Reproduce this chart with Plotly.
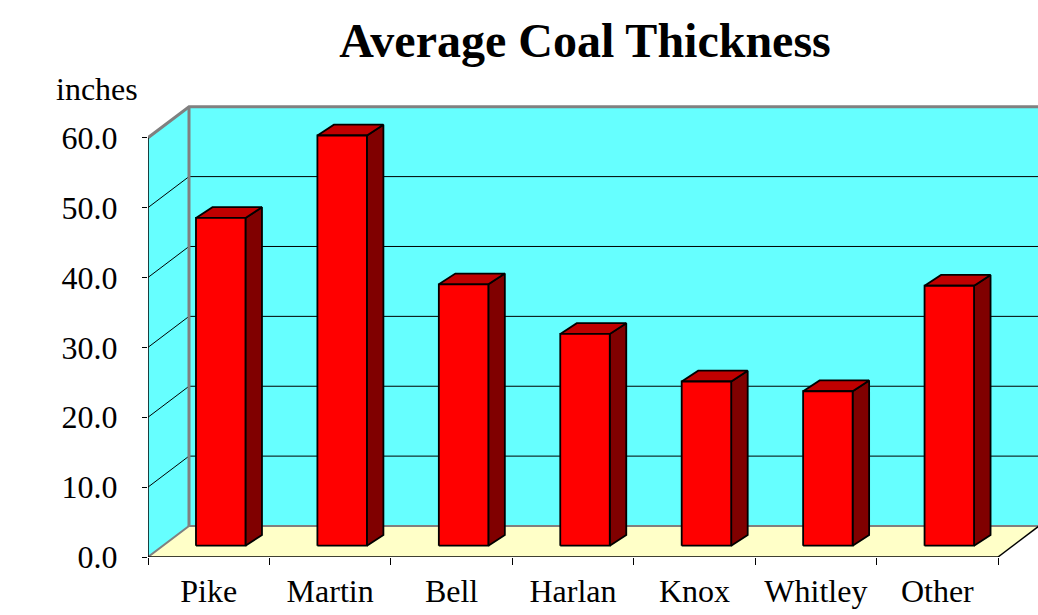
import plotly.graph_objects as go

# ---- data ----
categories = ["Pike", "Martin", "Bell", "Harlan", "Knox", "Whitley", "Other"]
thickness = [46.9, 58.7, 37.4, 30.3, 23.5, 22.1, 37.2]
y_ticks = [0, 10, 20, 30, 40, 50, 60]
y_label = "inches"
title_text = "Average Coal Thickness"

# ---- style / geometry (axis units) ----
n = len(categories)
ymax_axis = y_ticks[-1]
px_per_y = 6.988
px_per_x = 121.43
W, H = 1038, 615
ml, mr, mt, mb = 148, 0, 96, 58
plot_w = W - ml - mr
plot_h = H - mt - mb
x_range = [0, plot_w / px_per_x]
y_range = [0, plot_h / px_per_y]

dxw, dyw = 41 / px_per_x, 31 / px_per_y          # wall depth
ox, oy = 12 / px_per_x, 11.3 / px_per_y          # bar front offset
bw = 49.5 / px_per_x                              # bar width
bdx, bdy = 16.5 / px_per_x, 10.8 / px_per_y       # bar depth

WALL = "#66FFFF"
FLOOR = "#FFFFC8"
FRONT = "#FF0000"
TOP = "#C00000"
SIDE = "#800000"
GRAY = "#808080"
FONT = "Liberation Serif, Times New Roman, serif"

fig = go.Figure()

def poly(xs, ys, fill, line_color="rgba(0,0,0,0)", lw=0):
    fig.add_trace(go.Scatter(x=xs, y=ys, mode="lines", fill="toself",
                             fillcolor=fill, line=dict(color=line_color, width=lw),
                             hoverinfo="skip", showlegend=False))

def line(xs, ys, color, lw):
    fig.add_trace(go.Scatter(x=xs, y=ys, mode="lines",
                             line=dict(color=color, width=lw),
                             hoverinfo="skip", showlegend=False))

# side wall
poly([0, 0, dxw, dxw, 0], [0, ymax_axis, ymax_axis + dyw, dyw, 0], WALL)
# back wall
poly([dxw, dxw, n + dxw, n + dxw, dxw],
     [dyw, ymax_axis + dyw, ymax_axis + dyw, dyw, dyw], WALL)
# floor
poly([0, n, n + dxw, dxw, 0], [0, 0, dyw, dyw, 0], FLOOR)

# gridlines
gx, gy = [], []
for v in y_ticks[1:-1]:
    gx += [0, dxw, n + dxw, None]
    gy += [v, v + dyw, v + dyw, None]
line(gx, gy, "black", 1)

# wall borders (gray)
line([0, dxw, n + dxw], [ymax_axis, ymax_axis + dyw, ymax_axis + dyw], GRAY, 3)
line([dxw, dxw], [dyw, ymax_axis + dyw], GRAY, 3)
line([0, dxw, n + dxw], [0, dyw, dyw], GRAY, 2)
# floor right edge and front axis lines
line([n, n + dxw], [0, dyw], "black", 1.5)
line([0, n], [0, 0], "black", 1.5)
line([0, 0], [0, ymax_axis], "black", 1.5)

# bars
fx, fy, tx, ty, sx, sy = [], [], [], [], [], []
for i, v in enumerate(thickness):
    c = i + 0.5 + ox
    x1, x2 = c - bw / 2, c + bw / 2
    b, t = oy, oy + v
    fx += [x1, x2, x2, x1, x1, None]
    fy += [b, b, t, t, b, None]
    tx += [x1, x2, x2 + bdx, x1 + bdx, x1, None]
    ty += [t, t, t + bdy, t + bdy, t, None]
    sx += [x2, x2 + bdx, x2 + bdx, x2, x2, None]
    sy += [b, b + bdy, t + bdy, t, b, None]
poly(sx, sy, SIDE, "black", 1.8)
poly(tx, ty, TOP, "black", 1.8)
poly(fx, fy, FRONT, "black", 1.8)

fig.update_layout(
    width=W, height=H,
    margin=dict(l=ml, r=mr, t=mt, b=mb),
    paper_bgcolor="white", plot_bgcolor="white",
    font=dict(family=FONT, size=32, color="black"),
    title=dict(text="<b>" + title_text + "</b>", x=585 / W, xanchor="center",
               y=1 - 40 / H, yanchor="middle",
               font=dict(family=FONT, size=48, color="black")),
    xaxis=dict(range=x_range, showgrid=False, zeroline=False, showline=False,
               tickmode="array", tickvals=[i + 0.5 for i in range(n)],
               ticktext=categories, ticks="", ticklabelstandoff=12,
               minor=dict(tickmode="array", tickvals=list(range(n + 1)),
                          ticks="outside", ticklen=7, tickcolor="black",
                          tickwidth=1, showgrid=False),
               fixedrange=True),
    yaxis=dict(range=y_range, showgrid=False, zeroline=False, showline=False,
               tickmode="array", tickvals=y_ticks,
               ticktext=[f"{v:.1f}" for v in y_ticks],
               ticks="outside", ticklen=5, tickcolor="black", tickwidth=1,
               ticklabelstandoff=18, fixedrange=True),
    annotations=[dict(text=y_label, xref="paper", yref="paper",
                      x=(97 - ml) / plot_w, y=(H - mb - 89) / plot_h,
                      xanchor="center", yanchor="middle", showarrow=False,
                      font=dict(family=FONT, size=32, color="black"))],
)

fig.write_html("out.html", config={"displayModeBar": False},
               post_script="document.body.style.margin='0';document.body.style.overflow='hidden';")
